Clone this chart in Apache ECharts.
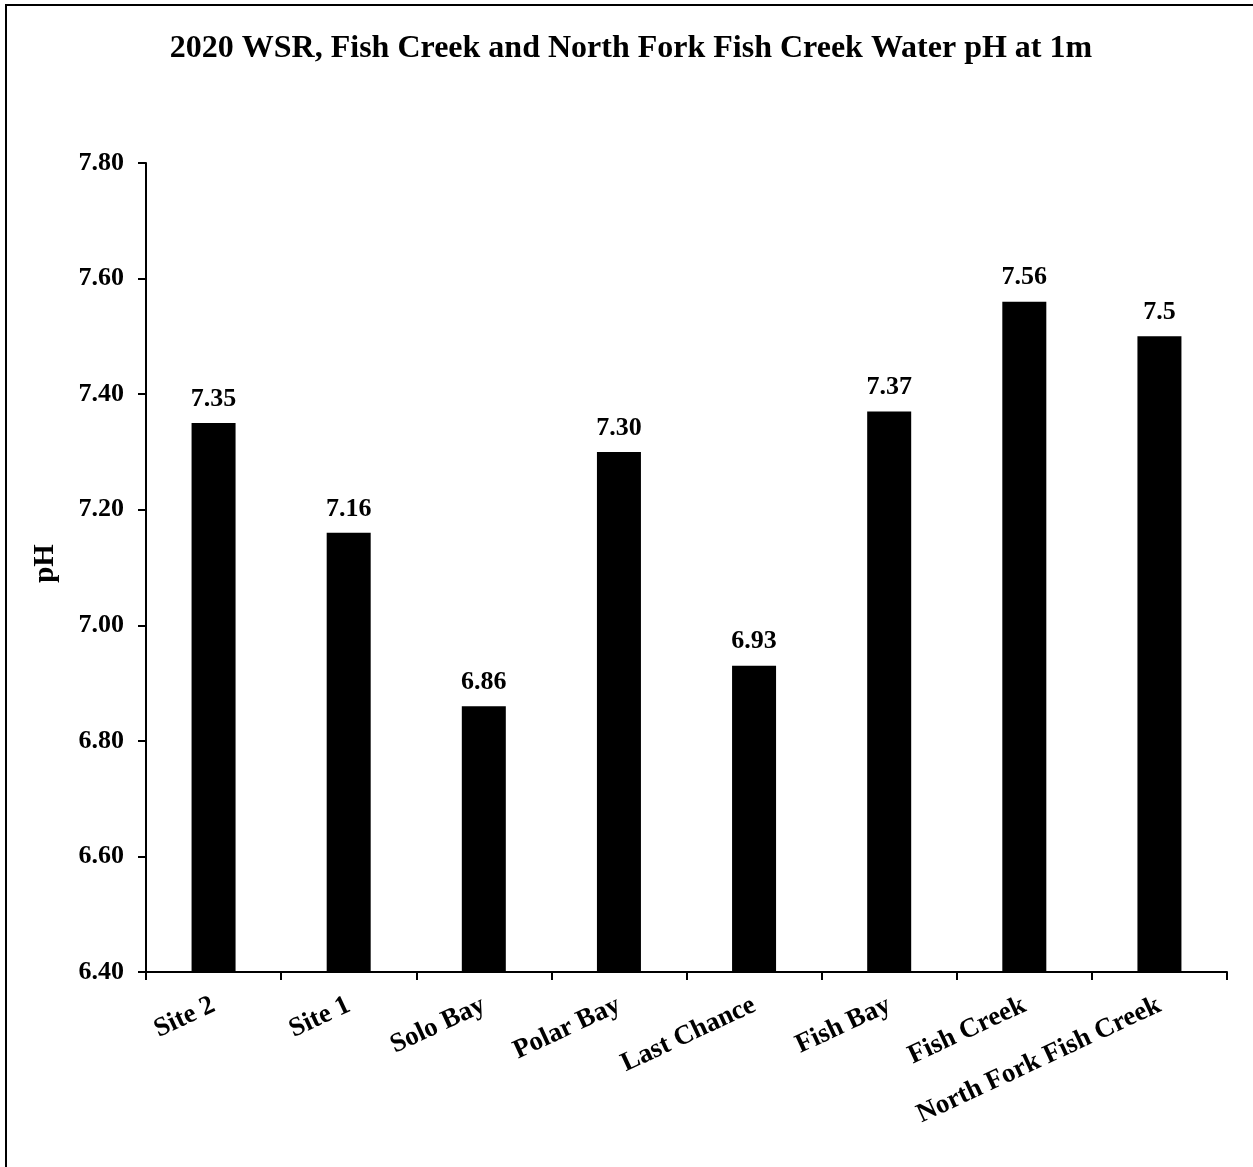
<!DOCTYPE html>
<html>
<head>
<meta charset="utf-8">
<title>2020 WSR Water pH</title>
<script src="https://cdn.jsdelivr.net/npm/echarts@6/dist/echarts.min.js"></script>
<style>
  html, body { margin: 0; padding: 0; background: #fff; }
  #chart { width: 1253px; height: 1167px; }
</style>
</head>
<body>
<div id="chart"></div>
<script>
// Sampling sites along the WSR, Fish Creek and North Fork Fish Creek
const sites = ['Site 2', 'Site 1', 'Solo Bay', 'Polar Bay', 'Last Chance', 'Fish Bay', 'Fish Creek', 'North Fork Fish Creek'];
// Water pH measured at 1 m depth
const phValues = [7.35, 7.16, 6.86, 7.30, 6.93, 7.37, 7.56, 7.5];
// Decimal places used for each value label
const labelDecimals = [2, 2, 2, 2, 2, 2, 2, 1];
// Y axis range and step
const yMin = 6.4, yMax = 7.8, yStep = 0.2;

const serif = '"Liberation Serif", "Times New Roman", serif';
const chart = echarts.init(document.getElementById('chart'), null, { renderer: 'canvas' });

chart.setOption({
  backgroundColor: '#fff',
  animation: false,
  title: {
    text: '2020 WSR, Fish Creek and North Fork Fish Creek Water pH at 1m',
    left: 626,
    textAlign: 'center',
    top: 28,
    textStyle: { fontFamily: serif, fontWeight: 'bold', fontSize: 32, color: '#000' }
  },
  graphic: [{
    type: 'rect',
    shape: { x: 6, y: 5, width: 1320, height: 1240 },
    style: { fill: 'none', stroke: '#000', lineWidth: 2 },
    silent: true
  }],
  grid: { left: 146, right: 26, top: 163, bottom: 195, containLabel: false },
  xAxis: {
    type: 'category',
    data: sites,
    axisLine: { show: true, lineStyle: { color: '#000', width: 2 } },
    axisTick: { show: true, alignWithLabel: false, length: 8, lineStyle: { color: '#000', width: 2 } },
    axisLabel: {
      interval: 0,
      rotate: 25,
      margin: 32,
      fontFamily: serif, fontWeight: 'bold', fontSize: 27, color: '#000'
    },
    splitLine: { show: false }
  },
  yAxis: {
    type: 'value',
    min: yMin, max: yMax, interval: yStep,
    name: 'pH',
    nameLocation: 'middle',
    nameGap: 86,
    nameTextStyle: { fontFamily: serif, fontWeight: 'bold', fontSize: 29, color: '#000', padding: [0, 0, 0, 8] },
    axisLine: { show: true, lineStyle: { color: '#000', width: 2 } },
    axisTick: { show: true, length: 8, lineStyle: { color: '#000', width: 2 } },
    axisLabel: {
      margin: 22,
      formatter: v => v.toFixed(2),
      fontFamily: serif, fontWeight: 'bold', fontSize: 26, color: '#000'
    },
    splitLine: { show: false }
  },
  series: [{
    type: 'bar',
    data: phValues,
    barWidth: 44,
    itemStyle: { color: '#000' },
    label: {
      show: true,
      position: 'top',
      distance: 11,
      formatter: p => p.value.toFixed(labelDecimals[p.dataIndex]),
      fontFamily: serif, fontWeight: 'bold', fontSize: 26, color: '#000'
    }
  }]
});
</script>
</body>
</html>
